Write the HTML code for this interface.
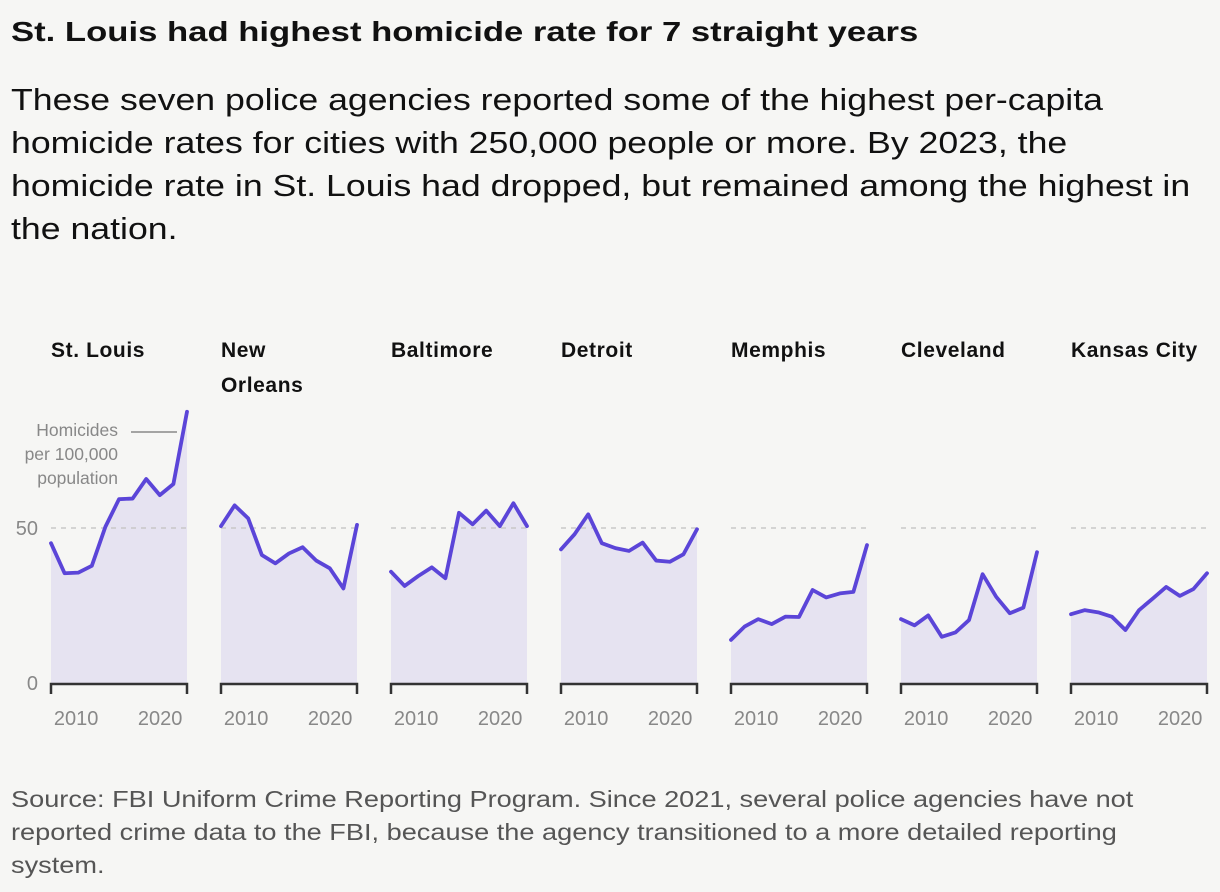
<!DOCTYPE html>
<html><head><meta charset="utf-8">
<style>
body{margin:0;background:#f6f6f4;width:1220px;height:892px;overflow:hidden;font-family:"Liberation Sans",Arial,sans-serif;color:#111}
.ln{display:block;white-space:nowrap;transform-origin:0 0}
#title{position:absolute;left:11px;top:16px;font-size:28px;font-weight:bold;margin:0}
#title .ln{transform:scaleX(1.238)}
#sub{position:absolute;left:11px;top:78px;font-size:31px;line-height:43px;margin:0;color:#111}
#sub .ln{transform:scaleX(1.15)}
#src{position:absolute;left:11px;top:783px;font-size:23px;line-height:33px;color:#555;margin:0}
#src .ln{transform:scaleX(1.18)}
svg{position:absolute;left:0;top:0}
</style></head><body>
<svg id="chart" width="1220" height="892"></svg>
<h1 id="title"><span class="ln">St. Louis had highest homicide rate for 7 straight years</span></h1>
<p id="sub"><span class="ln">These seven police agencies reported some of the highest per-capita</span><span class="ln">homicide rates for cities with 250,000 people or more. By 2023, the</span><span class="ln">homicide rate in St. Louis had dropped, but remained among the highest in</span><span class="ln">the nation.</span></p>
<p id="src"><span class="ln">Source: FBI Uniform Crime Reporting Program. Since 2021, several police agencies have not</span><span class="ln">reported crime data to the FBI, because the agency transitioned to a more detailed reporting</span><span class="ln">system.</span></p>
<script>
const cities = ["St. Louis","New Orleans","Baltimore","Detroit","Memphis","Cleveland","Kansas City"];
const stLouis = [45.1,35.4,35.6,37.8,50.4,59.3,59.5,65.8,60.6,64.2,87.5];
const newOrleans = [50.6,57.3,53.1,41.3,38.6,41.8,43.8,39.5,37.0,30.5,51.0];
const baltimore = [35.9,31.3,34.5,37.3,33.8,54.9,51.2,55.6,50.6,58.0,50.6];
const detroit = [43.1,48.0,54.4,45.1,43.5,42.6,45.3,39.5,39.1,41.5,49.6];
const memphis = [13.9,18.2,20.6,19.0,21.4,21.3,30.0,27.6,28.9,29.4,44.5];
const cleveland = [20.6,18.6,21.8,14.9,16.3,20.3,35.1,27.8,22.5,24.3,42.2];
const kansasCity = [22.2,23.5,22.8,21.4,17.1,23.5,27.2,31.0,28.1,30.3,35.4];
const yTicks = [0,50];
const xTickYears = [2010,2020];
const series = [stLouis,newOrleans,baltimore,detroit,memphis,cleveland,kansasCity];

const NS="http://www.w3.org/2000/svg";
const svg=document.getElementById('chart');
function mk(tag,attrs,parent){const e=document.createElementNS(NS,tag);for(const k in attrs)e.setAttribute(k,attrs[k]);(parent||svg).appendChild(e);return e;}
const panelX0=51, panelStep=170, panelW=136;
const y=v=>683-v*3.1;
const yearScale=(px,yr)=>px+(yr-2007)/(2023.2-2007)*panelW;

yTicks.forEach(t=>{
  const tx=mk('text',{x:38,y:y(t)+7,'text-anchor':'end','font-size':20,fill:'#888'});
  tx.textContent=t;
  
  
});

series.forEach((vals,i)=>{
  const px=panelX0+i*panelStep;
  const g=mk('g',{});
  
  
  const n=vals.length;
  const x=j=>px+j*panelW/(n-1);
  const lbl=mk('text',{x:px,y:357,'font-size':21,'font-weight':'bold',fill:'#111','letter-spacing':0.6},g);
  
  
  const words=cities[i]==="New Orleans"?["New","Orleans"]:[cities[i]];
  words.forEach((w,k)=>{const ts=mk('tspan',{x:px,dy:k?35:0},lbl);ts.textContent=w;});
  let d=`M${x(0)},${y(0)}`;vals.forEach((v,j)=>d+=`L${x(j)},${y(v)}`);d+=`L${x(n-1)},${y(0)}Z`;
  const area=mk('path',{d,fill:'#e6e3f1'},g);
  
  
  const gl=mk('line',{x1:px,x2:px+panelW,y1:y(50),y2:y(50),stroke:'#c8c8c8','stroke-width':1.5,'stroke-dasharray':'5 5'},g);
  
  
  const ld=vals.map((v,j)=>(j?'L':'M')+x(j)+','+y(v)).join('');
  const line=mk('path',{d:ld,fill:'none',stroke:'#5b45d8','stroke-width':3.8,'stroke-linejoin':'round','stroke-linecap':'round'},g);
  
  
  const ax=mk('path',{d:`M${px},${y(0)+11}V${y(0)+1}H${px+panelW}V${y(0)+11}`,fill:'none',stroke:'#333','stroke-width':2.5},g);
  
  
  xTickYears.forEach(yr=>{
    const t=mk('text',{x:yearScale(px,yr),y:725,'text-anchor':'middle','font-size':20,fill:'#888'},g);
    t.textContent=yr;
    
    
  });
});

const ann=mk('text',{x:118,y:436,'text-anchor':'end','font-size':17.5,fill:'#888'});


["Homicides","per 100,000","population"].forEach((w,k)=>{const ts=mk('tspan',{x:118,dy:k?24:0},ann);ts.textContent=w;});
const lead=mk('line',{x1:131,x2:177,y1:432,y2:432,stroke:'#888','stroke-width':1.5});


</script>
</body></html>
